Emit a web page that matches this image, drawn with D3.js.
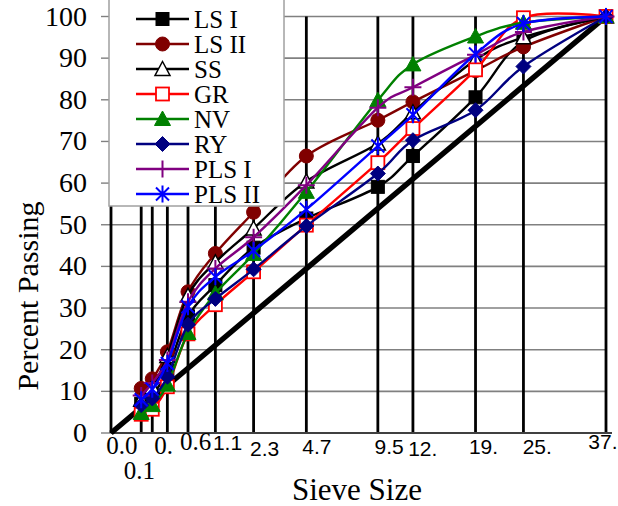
<!DOCTYPE html>
<html>
<head>
<meta charset="utf-8">
<script src="https://cdn.jsdelivr.net/npm/d3@7"></script>
<style>
  html, body { margin: 0; padding: 0; background: #fff; }
  svg { display: block; }
</style>
</head>
<body>
<div id="chart"></div>
<script>
// ---------------- data ----------------
const sieves = [0.075, 0.15, 0.3, 0.6, 1.18, 2.36, 4.75, 9.5, 12.5, 19, 25, 37.5];
const sieveLabels = ["0.0", "0.1", "0.", "0.6", "1.1", "2.3", "4.7", "9.5", "12.", "19.", "25.", "37."];
const yTicks = [0, 10, 20, 30, 40, 50, 60, 70, 80, 90, 100];
const seriesNames = ["LS I", "LS II", "SS", "GR", "NV", "RY", "PLS I", "PLS II"];
const lsI   = [7,    9,    15,   28,   35.5, 44.5, 51.5, 59.1, 66.5, 80.6, 94.0, 100];
const lsII  = [10.7, 13.0, 19.5, 33.9, 43.1, 53.0, 66.5, 75.1, 79.5, 87.0, 92.7, 100];
const ss    = [8,    11,   18.5, 33,   41,   49.1, 60.4, 69.5, 77,   89.6, 95.0, 100];
const gr    = [4.5,  5.7,  11.1, 23.8, 30.8, 38.7, 49.9, 64.9, 73.1, 87.2, 99.7, 100];
const nv    = [4.8,  6.7,  11.6, 24.0, 33.5, 43.0, 57.9, 79.9, 88.5, 95.2, 98.5, 100];
const ry    = [6.7,  8.3,  13.5, 26.0, 32.2, 39.3, 49.7, 62.3, 70.3, 77.5, 88.0, 100];
const plsI  = [9.0,  12.0, 17.5, 31.5, 39.5, 47.0, 59.5, 78.1, 83.0, 90.8, 96.3, 100];
const plsII = [8.0,  10.5, 16.7, 30.3, 37.5, 43.8, 53.7, 68.9, 76.4, 91.0, 98.3, 100];
const maxDensity = [0, 100]; // at sieve sizes 0 and 37.5

const seriesValues = [lsI, lsII, ss, gr, nv, ry, plsI, plsII];
const seriesColors = ["#000000", "#800000", "#000000", "#FF0000", "#008000", "#000080", "#800080", "#0000FF"];
const seriesMarkers = ["square", "circle", "triangleOpen", "squareOpen", "triangle", "diamond", "plus", "star"];

// ---------------- layout ----------------
const W = 618, H = 506;
const svg = d3.select("#chart").append("svg").attr("width", W).attr("height", H);

const x = d3.scalePow().exponent(0.45).domain([0, 37.5]).range([111, 606]);
const y = d3.scaleLinear().domain([0, 100]).range([433, 16.5]);

const serif = "'Liberation Serif', 'Times New Roman', serif";
const sans = "'Liberation Sans', Arial, sans-serif";

// horizontal gridlines
svg.append("g").selectAll("line").data(yTicks.filter(d => d > 0)).join("line")
  .attr("x1", x(0)).attr("x2", x(37.5))
  .attr("y1", d => y(d)).attr("y2", d => y(d))
  .attr("stroke", "#808080").attr("stroke-width", 1.6);

// y tick marks
svg.append("g").selectAll("line").data(yTicks).join("line")
  .attr("x1", x(0) - 10).attr("x2", x(0))
  .attr("y1", d => y(d)).attr("y2", d => y(d))
  .attr("stroke", "#808080").attr("stroke-width", 1.4);

// vertical gridlines (incl. y axis at 0)
svg.append("g").selectAll("line").data([0].concat(sieves)).join("line")
  .attr("x1", d => x(d)).attr("x2", d => x(d))
  .attr("y1", y(100)).attr("y2", y(0))
  .attr("stroke", "#000").attr("stroke-width", 2.8);

// x axis line
svg.append("line")
  .attr("x1", x(0)).attr("x2", x(37.5) + 6)
  .attr("y1", y(0)).attr("y2", y(0))
  .attr("stroke", "#404040").attr("stroke-width", 2);

// maximum density line
svg.append("line")
  .attr("x1", x(0)).attr("y1", y(maxDensity[0]))
  .attr("x2", x(37.5)).attr("y2", y(maxDensity[1]))
  .attr("stroke", "#000").attr("stroke-width", 5.5);

// marker drawing
function drawMarker(g, type, color) {
  switch (type) {
    case "square":
      g.append("rect").attr("x", -6.5).attr("y", -6.5).attr("width", 13).attr("height", 13)
        .attr("fill", color).attr("stroke", color).attr("stroke-width", 1); break;
    case "squareOpen":
      g.append("rect").attr("x", -6.5).attr("y", -6.5).attr("width", 13).attr("height", 13)
        .attr("fill", "#fff").attr("stroke", color).attr("stroke-width", 1.8); break;
    case "circle":
      g.append("circle").attr("r", 7).attr("fill", color).attr("stroke", color); break;
    case "triangle":
      g.append("path").attr("d", "M0,-8L8,6.5L-8,6.5Z").attr("fill", color).attr("stroke", color); break;
    case "triangleOpen":
      g.append("path").attr("d", "M0,-7.5L7.5,6.5L-7.5,6.5Z").attr("fill", "#fff").attr("stroke", color).attr("stroke-width", 1.5); break;
    case "diamond":
      g.append("path").attr("d", "M0,-7.5L7.5,0L0,7.5L-7.5,0Z").attr("fill", color).attr("stroke", color); break;
    case "plus":
      g.append("path").attr("d", "M-8.5,0H8.5M0,-8.5V8.5").attr("stroke", color).attr("stroke-width", 2).attr("fill", "none"); break;
    case "star":
      g.append("path").attr("d", "M-6.5,-6.5L6.5,6.5M-6.5,6.5L6.5,-6.5M0,-8.5V8.5").attr("stroke", color).attr("stroke-width", 2).attr("fill", "none"); break;
  }
}

const line = d3.line().x(d => x(d[0])).y(d => y(d[1])).curve(d3.curveCatmullRom.alpha(0));

seriesValues.forEach((vals, i) => {
  const pts = sieves.map((s, j) => [s, vals[j]]);
  const g = svg.append("g");
  g.append("path").datum(pts).attr("d", line)
    .attr("fill", "none").attr("stroke", seriesColors[i]).attr("stroke-width", 2.4);
  g.selectAll("g.m").data(pts).join("g").attr("class", "m")
    .attr("transform", d => `translate(${x(d[0])},${y(d[1])})`)
    .each(function () { drawMarker(d3.select(this), seriesMarkers[i], seriesColors[i]); });
});

// y tick labels
svg.append("g").selectAll("text").data(yTicks).join("text")
  .attr("x", 87).attr("y", d => y(d) + 9)
  .attr("text-anchor", "end")
  .attr("font-family", serif).attr("font-size", 28)
  .text(d => d);

// x tick labels (positions as drawn in the original export)
const labelDx = [-35, -28.5, -13, -8, -2.5, -3.5, -4, -3.3, -4.8, -6.6, -0.8, -17.7];
const labelBase = [454, 479, 454, 450, 450, 455.5, 454, 454, 455.5, 454, 454, 449];
svg.append("g").selectAll("text").data(sieves).join("text")
  .attr("x", (d, i) => x(d) + labelDx[i])
  .attr("y", (d, i) => labelBase[i])
  .attr("font-family", (d, i) => i < 4 ? serif : sans)
  .attr("font-size", (d, i) => i < 4 ? 25 : 21)
  .text((d, i) => sieveLabels[i]);

// axis titles
svg.append("text").attr("x", 357).attr("y", 500).attr("text-anchor", "middle")
  .attr("font-family", serif).attr("font-size", 31).text("Sieve Size");
svg.append("text").attr("transform", "translate(38,296) rotate(-90)").attr("text-anchor", "middle")
  .attr("font-family", serif).attr("font-size", 30).text("Percent Passing");

// legend
const lg = svg.append("g");
lg.append("rect").attr("x", 109).attr("y", -2).attr("width", 175).attr("height", 208)
  .attr("fill", "#fff").attr("stroke", "#a0a0a0").attr("stroke-width", 1.5);
seriesNames.forEach((name, i) => {
  const cy = 19 + i * 25;
  const row = lg.append("g").attr("transform", `translate(0,${cy})`);
  row.append("line").attr("x1", 136).attr("x2", 189).attr("y1", 0).attr("y2", 0)
    .attr("stroke", seriesColors[i]).attr("stroke-width", 2.4);
  drawMarker(row.append("g").attr("transform", "translate(162.5,0)"), seriesMarkers[i], seriesColors[i]);
  row.append("text").attr("x", 194).attr("y", 8.5)
    .attr("font-family", serif).attr("font-size", 25).text(name);
});
</script>
</body>
</html>
